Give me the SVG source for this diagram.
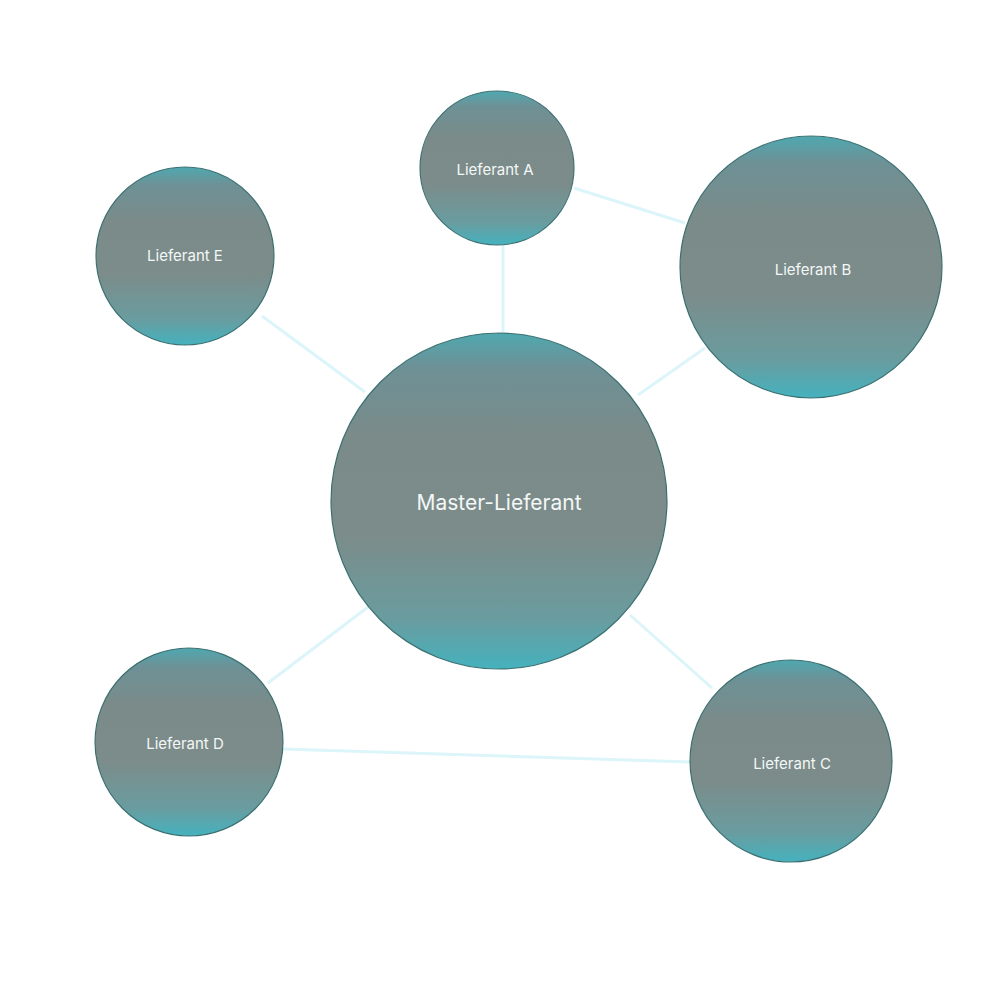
<svg xmlns="http://www.w3.org/2000/svg" width="1000" height="1000" viewBox="0 0 1000 1000">
<defs>
<linearGradient id="g" x1="0" y1="0" x2="0" y2="1">
<stop offset="0" stop-color="#4fa8b0"/>
<stop offset="0.1" stop-color="#6d9196"/>
<stop offset="0.3" stop-color="#7a8b89"/>
<stop offset="0.6" stop-color="#7b8c8a"/>
<stop offset="0.85" stop-color="#6a9c9f"/>
<stop offset="1" stop-color="#45b2be"/>
</linearGradient>
<filter id="glow" x="-20%" y="-20%" width="140%" height="140%">
<feGaussianBlur in="SourceAlpha" stdDeviation="4"/>
<feOffset dy="-3"/>
<feFlood flood-color="#bdeef5"/>
<feComposite operator="in" in2="SourceAlpha"/>
<feComposite operator="in"/>
<feMerge><feMergeNode/><feMergeNode in="SourceGraphic"/></feMerge>
</filter>
<style>
.n{fill:url(#g);stroke:#3d6e6e;stroke-width:1.2;filter:url(#glow)}
.t{font-family:Inter,"Liberation Sans",sans-serif;fill:#f4f7f7;text-anchor:middle;dominant-baseline:central;font-size:15px}
.e{stroke:#dcf5fa;stroke-width:3;fill:none}
</style>
</defs>
<rect width="1000" height="1000" fill="#fff"/>
<g id="connectors">
<line class="e" x1="503" y1="244" x2="503" y2="333"/>
<line class="e" x1="574" y1="188" x2="685" y2="223"/>
<line class="e" x1="705" y1="348" x2="638" y2="395"/>
<line class="e" x1="262" y1="316" x2="365" y2="392"/>
<line class="e" x1="268" y1="683" x2="368" y2="607"/>
<line class="e" x1="630" y1="615" x2="712" y2="688"/>
<line class="e" x1="283" y1="749" x2="690" y2="762"/>
</g>
<g id="master"><circle class="n" cx="499" cy="501" r="168"/><text class="t" x="499" y="502" style="font-size:21px">Master-Lieferant</text></g>
<g id="a"><circle class="n" cx="497" cy="168" r="77"/><text class="t" x="495" y="169">Lieferant A</text></g>
<g id="b"><circle class="n" cx="811" cy="267" r="131"/><text class="t" x="813" y="269">Lieferant B</text></g>
<g id="e"><circle class="n" cx="185" cy="256" r="89"/><text class="t" x="185" y="255">Lieferant E</text></g>
<g id="d"><circle class="n" cx="189" cy="742" r="94"/><text class="t" x="185" y="743">Lieferant D</text></g>
<g id="c"><circle class="n" cx="791" cy="761" r="101"/><text class="t" x="792" y="763">Lieferant C</text></g>
</svg>
